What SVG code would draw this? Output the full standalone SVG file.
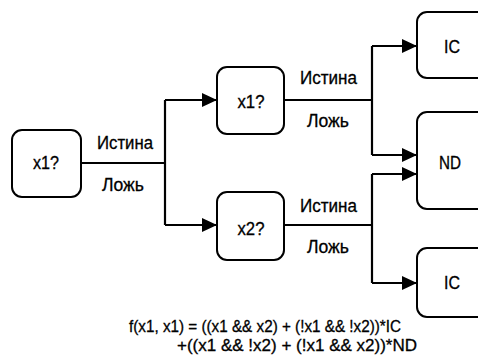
<svg xmlns="http://www.w3.org/2000/svg" width="478" height="363" viewBox="0 0 478 363">
<defs>
<style>
.box{fill:#fff;stroke:#000;stroke-width:2}
.ln{fill:none;stroke:#000;stroke-width:2.2}
text{font-family:"Liberation Sans",Arial,sans-serif;fill:#000;stroke:#000;stroke-width:0.3}
.lbl{font-size:17.5px}
.nd{font-size:18px;text-anchor:middle}
.fm{font-size:16.5px}
</style>
<marker id="ah" viewBox="0 0 15 14" refX="15" refY="7" markerWidth="15" markerHeight="14" markerUnits="userSpaceOnUse" orient="auto">
<path d="M0,0 L15,7 L0,14 Z" fill="#000" stroke="none"/>
</marker>
</defs>
<rect width="478" height="363" fill="#fff"/>
<g id="connectors">
<path class="ln" d="M81,163 H165"/>
<path class="ln" d="M165,100 V225"/>
<path class="ln" d="M165,100 H217" marker-end="url(#ah)"/>
<path class="ln" d="M165,225 H217" marker-end="url(#ah)"/>
<path class="ln" d="M284,100 H372"/>
<path class="ln" d="M372,46 V155"/>
<path class="ln" d="M372,46 H417" marker-end="url(#ah)"/>
<path class="ln" d="M372,155 H417" marker-end="url(#ah)"/>
<path class="ln" d="M284,225 H372"/>
<path class="ln" d="M372,174 V283"/>
<path class="ln" d="M372,174 H417" marker-end="url(#ah)"/>
<path class="ln" d="M372,283 H417" marker-end="url(#ah)"/>
<text class="lbl" x="97" y="149" textLength="56" lengthAdjust="spacingAndGlyphs">Истина</text>
<text class="lbl" x="102" y="191" textLength="42" lengthAdjust="spacingAndGlyphs">Ложь</text>
<text class="lbl" x="300" y="84" textLength="57" lengthAdjust="spacingAndGlyphs">Истина</text>
<text class="lbl" x="307" y="127" textLength="42" lengthAdjust="spacingAndGlyphs">Ложь</text>
<text class="lbl" x="300" y="212" textLength="57" lengthAdjust="spacingAndGlyphs">Истина</text>
<text class="lbl" x="307" y="253" textLength="42" lengthAdjust="spacingAndGlyphs">Ложь</text>
</g>
<g id="n_x1_root">
<rect class="box" x="12" y="130" width="69" height="67" rx="10"/>
<text class="nd" x="46" y="169" textLength="26" lengthAdjust="spacingAndGlyphs">x1?</text>
</g>
<g id="n_x1">
<rect class="box" x="217" y="67" width="67" height="67" rx="10"/>
<text class="nd" x="251" y="108" textLength="27" lengthAdjust="spacingAndGlyphs">x1?</text>
</g>
<g id="n_x2">
<rect class="box" x="217" y="192" width="67" height="68" rx="10"/>
<text class="nd" x="251" y="235" textLength="27" lengthAdjust="spacingAndGlyphs">x2?</text>
</g>
<g id="n_ic_top">
<rect class="box" x="417" y="12" width="80" height="66" rx="10"/>
<text class="nd" x="452" y="53" textLength="16" lengthAdjust="spacingAndGlyphs">IC</text>
</g>
<g id="n_nd">
<rect class="box" x="417" y="112" width="80" height="97" rx="10"/>
<text class="nd" x="450" y="169" textLength="22" lengthAdjust="spacingAndGlyphs">ND</text>
</g>
<g id="n_ic_bot">
<rect class="box" x="417" y="248" width="80" height="69" rx="10"/>
<text class="nd" x="452" y="289" textLength="16" lengthAdjust="spacingAndGlyphs">IC</text>
</g>
<g id="formula">
<text class="fm" x="129" y="332" textLength="272" lengthAdjust="spacingAndGlyphs">f(x1, x1) = ((x1 &amp;&amp; x2) + (!x1 &amp;&amp; !x2))*IC</text>
<text class="fm" x="177" y="351" textLength="240" lengthAdjust="spacingAndGlyphs">+((x1 &amp;&amp; !x2) + (!x1 &amp;&amp; x2))*ND</text>
</g>
</svg>
